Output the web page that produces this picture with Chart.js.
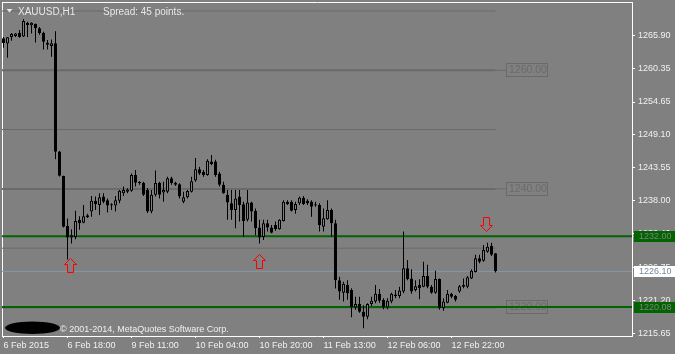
<!DOCTYPE html>
<html>
<head>
<meta charset="utf-8">
<script src="https://cdn.jsdelivr.net/npm/chart.js@4.4.1/dist/chart.umd.min.js"></script>
<style>
  html, body { margin: 0; padding: 0; background: #808080; }
  canvas { display: block; }
</style>
</head>
<body>
<canvas id="chart" width="675" height="354"></canvas>
<script>
// XAUUSD H1 candles, 6 Feb 2015 02:00 .. 13 Feb 2015
const opens = [
  1265.4, 1264.5, 1265.6, 1265.8, 1266.3, 1265.7, 1268.0, 1267.6, 1267.8, 1267.1,
  1266.3, 1264.65, 1264.1, 1264.55, 1246.3, 1242.2, 1233.75, 1231.8, 1231.9, 1234.8,
  1234.3, 1235.2, 1236.2, 1238.0, 1237.3, 1238.7, 1238.1, 1237.4, 1237.2, 1238.0,
  1239.25, 1239.5, 1239.7, 1242.35, 1241.2, 1241.05, 1239.8, 1236.2, 1239.0, 1241.05,
  1239.4, 1239.5, 1241.8, 1241.05, 1240.8, 1237.85, 1238.6, 1239.5, 1241.4, 1243.3,
  1242.9, 1242.35, 1244.6, 1244.6, 1242.6, 1240.7, 1239.0, 1237.6, 1236.45, 1238.7,
  1237.4, 1234.8, 1237.7, 1236.3, 1233.5, 1231.9, 1234.2, 1233.5, 1233.9, 1233.2,
  1234.6, 1237.85, 1237.85, 1236.45, 1237.6, 1238.5, 1238.0, 1237.85, 1237.4, 1237.3,
  1233.6, 1234.9, 1236.45, 1234.2, 1224.6, 1222.5, 1223.8, 1222.95, 1220.0, 1220.6,
  1219.3, 1218.45, 1220.6, 1221.0, 1222.3, 1221.3, 1220.0, 1221.0, 1221.95, 1221.95,
  1222.7, 1226.6, 1224.9, 1222.95, 1223.8, 1223.5, 1225.3, 1223.5, 1222.5, 1224.8,
  1219.9, 1220.8, 1222.3, 1221.95, 1222.7, 1223.5, 1223.5, 1224.9, 1226.0, 1228.3,
  1227.9, 1229.4, 1230.4, 1229.15
];
const highs = [
  1265.6, 1265.6, 1266.3, 1266.3, 1266.8, 1268.6, 1268.2, 1268.1, 1267.9, 1267.3,
  1266.5, 1265.1, 1265.2, 1266.6, 1246.4, 1242.2, 1235.0, 1233.2, 1236.3, 1235.4,
  1237.3, 1235.8, 1238.8, 1238.7, 1239.25, 1239.25, 1238.4, 1237.6, 1238.8, 1239.8,
  1240.4, 1240.1, 1242.6, 1243.2, 1241.3, 1241.2, 1240.15, 1239.8, 1243.1, 1241.2,
  1241.2, 1242.05, 1242.05, 1241.2, 1240.95, 1239.5, 1239.8, 1242.05, 1245.2, 1243.75,
  1243.2, 1245.0, 1245.7, 1244.9, 1242.9, 1241.2, 1239.8, 1239.8, 1239.8, 1239.8,
  1237.85, 1239.8, 1237.85, 1236.7, 1234.8, 1234.8, 1234.8, 1233.9, 1234.5, 1234.9,
  1238.1, 1238.1, 1238.1, 1237.85, 1238.7, 1238.8, 1238.25, 1238.1, 1237.85, 1237.6,
  1236.7, 1238.1, 1236.7, 1234.8, 1225.2, 1224.35, 1224.6, 1223.25, 1221.8, 1221.8,
  1220.4, 1220.7, 1221.8, 1223.8, 1223.1, 1221.55, 1221.55, 1222.5, 1222.95, 1223.5,
  1232.8, 1228.0, 1226.45, 1224.6, 1224.75, 1227.7, 1227.2, 1223.8, 1226.2, 1224.9,
  1221.55, 1222.95, 1222.5, 1222.1, 1223.8, 1224.9, 1225.3, 1226.45, 1228.9, 1228.9,
  1230.55, 1230.9, 1230.9, 1229.2
];
const lows = [
  1263.8, 1262.1, 1265.0, 1265.6, 1265.5, 1265.6, 1265.6, 1266.2, 1264.7, 1266.0,
  1263.5, 1263.5, 1262.3, 1245.0, 1242.1, 1233.5, 1228.1, 1230.8, 1231.5, 1233.1,
  1234.2, 1235.1, 1235.3, 1236.45, 1235.6, 1237.6, 1236.0, 1236.45, 1236.2, 1237.6,
  1238.8, 1239.25, 1239.5, 1240.4, 1240.7, 1238.8, 1235.95, 1235.9, 1238.7, 1238.4,
  1237.85, 1239.25, 1240.7, 1240.5, 1238.4, 1237.6, 1238.4, 1239.4, 1241.2, 1242.35,
  1242.05, 1242.2, 1244.0, 1242.05, 1240.4, 1239.2, 1234.8, 1234.8, 1233.35, 1234.5,
  1231.95, 1234.5, 1234.5, 1232.2, 1230.8, 1231.4, 1232.8, 1232.5, 1232.95, 1233.1,
  1234.5, 1237.3, 1236.2, 1235.8, 1237.3, 1237.3, 1237.3, 1235.3, 1237.0, 1232.8,
  1232.8, 1234.8, 1231.95, 1223.2, 1221.3, 1221.0, 1221.3, 1218.35, 1219.6, 1219.1,
  1216.5, 1218.0, 1220.25, 1220.7, 1220.8, 1219.7, 1219.7, 1220.7, 1221.55, 1221.55,
  1222.4, 1224.6, 1222.3, 1222.7, 1221.4, 1223.4, 1223.25, 1222.3, 1222.3, 1219.6,
  1219.45, 1220.7, 1221.55, 1221.0, 1222.5, 1223.25, 1223.25, 1224.8, 1225.9, 1227.45,
  1227.7, 1229.25, 1228.7, 1225.9
];
const closes = [
  1264.6, 1265.55, 1266.1, 1266.2, 1265.6, 1268.3, 1267.6, 1268.0, 1267.1, 1266.3,
  1264.8, 1264.3, 1264.55, 1246.27, 1242.2, 1233.6, 1231.8, 1232.2, 1234.6, 1234.2,
  1235.4, 1235.55, 1238.0, 1237.4, 1238.6, 1237.85, 1237.2, 1237.2, 1238.1, 1239.7,
  1239.8, 1239.9, 1242.35, 1241.05, 1241.0, 1239.0, 1236.2, 1239.0, 1241.0, 1239.0,
  1239.8, 1241.8, 1241.0, 1240.7, 1238.7, 1238.6, 1239.65, 1241.3, 1243.3, 1242.6,
  1242.35, 1244.75, 1244.2, 1242.35, 1240.7, 1239.25, 1237.7, 1236.45, 1238.4, 1237.3,
  1234.6, 1237.7, 1236.2, 1233.35, 1231.8, 1234.2, 1233.5, 1232.6, 1233.2, 1234.8,
  1237.85, 1237.4, 1236.3, 1237.45, 1238.5, 1237.45, 1237.6, 1237.0, 1237.2, 1233.9,
  1235.05, 1236.45, 1234.2, 1224.6, 1222.7, 1224.0, 1222.4, 1220.1, 1220.6, 1219.3,
  1218.45, 1220.6, 1221.15, 1222.3, 1221.15, 1220.0, 1221.15, 1222.3, 1222.2, 1222.85,
  1226.6, 1224.8, 1222.7, 1223.6, 1223.25, 1225.3, 1223.5, 1222.5, 1224.8, 1219.9,
  1221.0, 1222.3, 1221.8, 1221.3, 1223.6, 1223.8, 1225.1, 1226.2, 1228.3, 1227.7,
  1229.7, 1230.25, 1228.9, 1226.1
];

const timeIdx = [0, 16, 32, 48, 64, 80, 96, 112];
const timeLabels = ['6 Feb 2015', '6 Feb 18:00', '9 Feb 11:00', '10 Feb 04:00',
  '10 Feb 20:00', '11 Feb 13:00', '12 Feb 06:00', '12 Feb 22:00'];
const priceTicks = [1215.65, 1221.20, 1226.75, 1232.40, 1238.00, 1243.55, 1249.10, 1254.65, 1260.35, 1265.90];

const roundLevels = [1270, 1260, 1250, 1240, 1230, 1220];
const labeledLevels = [1260, 1240, 1220];
const supportLevels = [1232.00, 1220.08];
const bid = 1226.10;

// signal arrows: [bar, price at the arrow centre]
const arrowsUp = [[16.75, 1227.08], [64.0, 1227.76]];
const arrowsDown = [[120.75, 1234.0]];

const yMin = 1215.194, yMax = 1271.515;
const xMin = -0.375, xMax = 157.125;
const lastBar = opens.length - 1;

const BG = '#808080';
const FONT = "'Liberation Sans', Arial, sans-serif";

Chart.defaults.font.family = FONT;

const hline = (y, from, to, color, width, order) => ({
  type: 'line', data: [{ x: from, y }, { x: to, y }],
  borderColor: color, borderWidth: width, pointRadius: 0, clip: 0, order
});

const datasets = [];
datasets.push({
  type: 'bar', order: 1, grouped: false, barThickness: 3, minBarLength: 1,
  data: opens.map((o, i) => ({ x: i, y: [o, closes[i]] })),
  backgroundColor: ctx => closes[ctx.dataIndex] >= opens[ctx.dataIndex] ? BG : '#000000',
  borderColor: '#000000', borderWidth: 1, borderSkipped: false, inflateAmount: 0
});
datasets.push({
  type: 'bar', order: 2, grouped: false, barThickness: 1,
  data: lows.map((l, i) => ({ x: i, y: [l, highs[i]] })),
  backgroundColor: '#000000', borderWidth: 0, inflateAmount: 0
});
supportLevels.forEach(v => datasets.push(hline(v, -2, 160, '#006400', 2, 3)));
datasets.push(hline(bid, -2, 160, '#8797aa', 1, 4));
roundLevels.forEach(v => {
  const thick = labeledLevels.includes(v);
  datasets.push(hline(v, -2, lastBar, '#6a6a6a', thick ? 2 : 1, 5));
  if (thick) datasets.push(hline(v, lastBar, 125.6, '#6a6a6a', 1, 5));
});

const noPad = s => { s.paddingLeft = 0; s.paddingRight = 0; s.paddingTop = 0; s.paddingBottom = 0; };

function drawArrow(ctx, cx, cy, down) {
  const l = Math.round(cx - 6.5), t = Math.round(cy - 7.5);
  const up = [[6.5, 0.5], [12.5, 6.5], [9.5, 6.5], [9.5, 14.5], [3.5, 14.5], [3.5, 6.5], [0.5, 6.5]];
  ctx.beginPath();
  up.forEach(([px, py], k) => {
    const X = l + px, Y = t + (down ? 15 - py : py);
    if (k === 0) ctx.moveTo(X, Y); else ctx.lineTo(X, Y);
  });
  ctx.closePath();
  ctx.fillStyle = BG;
  ctx.fill();
  ctx.strokeStyle = '#ff0000';
  ctx.lineWidth = 1;
  ctx.stroke();
}

const decor = {
  id: 'decor',
  beforeDraw(chart) {
    const ctx = chart.ctx;
    ctx.save();
    ctx.fillStyle = BG;
    ctx.fillRect(0, 0, chart.width, chart.height);
    ctx.restore();
  },
  beforeDatasetsDraw(chart) {
    const ctx = chart.ctx, x = chart.scales.x, y = chart.scales.y;
    ctx.save();
    ctx.font = '10.5px ' + FONT;
    ctx.textBaseline = 'middle';
    labeledLevels.forEach(v => {
      const left = Math.round(x.getPixelForValue(125.6));
      const cy = Math.round(y.getPixelForValue(v));
      ctx.strokeStyle = '#6a6a6a';
      ctx.lineWidth = 1;
      ctx.strokeRect(left + 0.5, cy - 6.5, 41, 13);
      ctx.fillStyle = '#6a6a6a';
      ctx.fillText(v.toFixed(2), left + 3, cy + 0.5);
    });
    ctx.restore();
  },
  afterDatasetsDraw(chart) {
    const ctx = chart.ctx, x = chart.scales.x, y = chart.scales.y;
    ctx.save();
    arrowsUp.forEach(a => drawArrow(ctx, x.getPixelForValue(a[0]), y.getPixelForValue(a[1]), false));
    arrowsDown.forEach(a => drawArrow(ctx, x.getPixelForValue(a[0]), y.getPixelForValue(a[1]), true));
    ctx.restore();
  },
  afterDraw(chart) {
    const ctx = chart.ctx, y = chart.scales.y;
    ctx.save();
    // price tags on the axis
    ctx.font = '9px ' + FONT;
    ctx.textBaseline = 'middle';
    const tag = (v, bg, fg) => {
      const cy = Math.round(y.getPixelForValue(v));
      ctx.fillStyle = bg;
      ctx.fillRect(634, cy - 5, 41, 11);
      ctx.fillStyle = fg;
      ctx.fillText(v.toFixed(2), 639, cy + 0.5);
    };
    supportLevels.forEach(v => tag(v, '#006400', BG));
    tag(bid, '#ffffff', '#778899');

    // header
    ctx.fillStyle = '#e8e8e8';
    ctx.beginPath();
    ctx.moveTo(6.5, 9); ctx.lineTo(12.5, 9); ctx.lineTo(9.5, 12.5); ctx.closePath();
    ctx.fill();
    ctx.font = '10px ' + FONT;
    ctx.textBaseline = 'alphabetic';
    ctx.fillText('XAUUSD,H1', 18, 14.5);
    ctx.fillText('Spread: 45 points.', 103, 14.5);

    // footer
    ctx.fillStyle = '#000000';
    ctx.beginPath();
    ctx.ellipse(32.5, 327.8, 27.5, 6.3, 0, 0, Math.PI * 2);
    ctx.fill();
    ctx.fillStyle = '#f0f0f0';
    ctx.font = '9px ' + FONT;
    ctx.fillText('\u00a9 2001-2014, MetaQuotes Software Corp.', 60, 331.5);
    ctx.restore();
  }
};

new Chart(document.getElementById('chart'), {
  type: 'bar',
  data: { datasets },
  options: {
    responsive: false,
    animation: false,
    devicePixelRatio: 1,
    events: [],
    layout: { padding: 0, autoPadding: false },
    plugins: { legend: { display: false }, tooltip: { enabled: false } },
    scales: {
      x: {
        type: 'linear', position: 'bottom', min: xMin, max: xMax, offset: false,
        afterBuildTicks: s => { s.ticks = timeIdx.map(v => ({ value: v })); },
        afterFit: s => { s.height = 18; noPad(s); },
        ticks: {
          color: '#f0f0f0', font: { size: 9 }, align: 'start', padding: 2,
          maxRotation: 0, autoSkip: false,
          callback: v => timeLabels[timeIdx.indexOf(v)]
        },
        grid: { drawOnChartArea: false, offset: false, tickLength: 2, tickColor: '#ffffff' },
        border: { color: '#ffffff' }
      },
      y: {
        type: 'linear', position: 'right', min: yMin, max: yMax,
        afterBuildTicks: s => { s.ticks = priceTicks.map(v => ({ value: v })); },
        afterFit: s => { s.width = 43; noPad(s); },
        ticks: { color: '#f0f0f0', font: { size: 9 }, padding: 3, autoSkip: false, callback: v => v.toFixed(2) },
        grid: { drawOnChartArea: false, tickLength: 3, tickColor: '#ffffff' },
        border: { color: '#ffffff' }
      },
      x2: {
        type: 'linear', position: 'top', z: 1,
        afterFit: s => { s.height = 2; noPad(s); },
        ticks: { display: false },
        grid: { drawOnChartArea: false, drawTicks: false },
        border: { color: '#ffffff' }
      },
      y2: {
        type: 'linear', position: 'left', z: 1,
        afterFit: s => { s.width = 2; noPad(s); },
        ticks: { display: false },
        grid: { drawOnChartArea: false, drawTicks: false },
        border: { color: '#ffffff' }
      }
    }
  },
  plugins: [decor]
});
</script>
</body>
</html>
